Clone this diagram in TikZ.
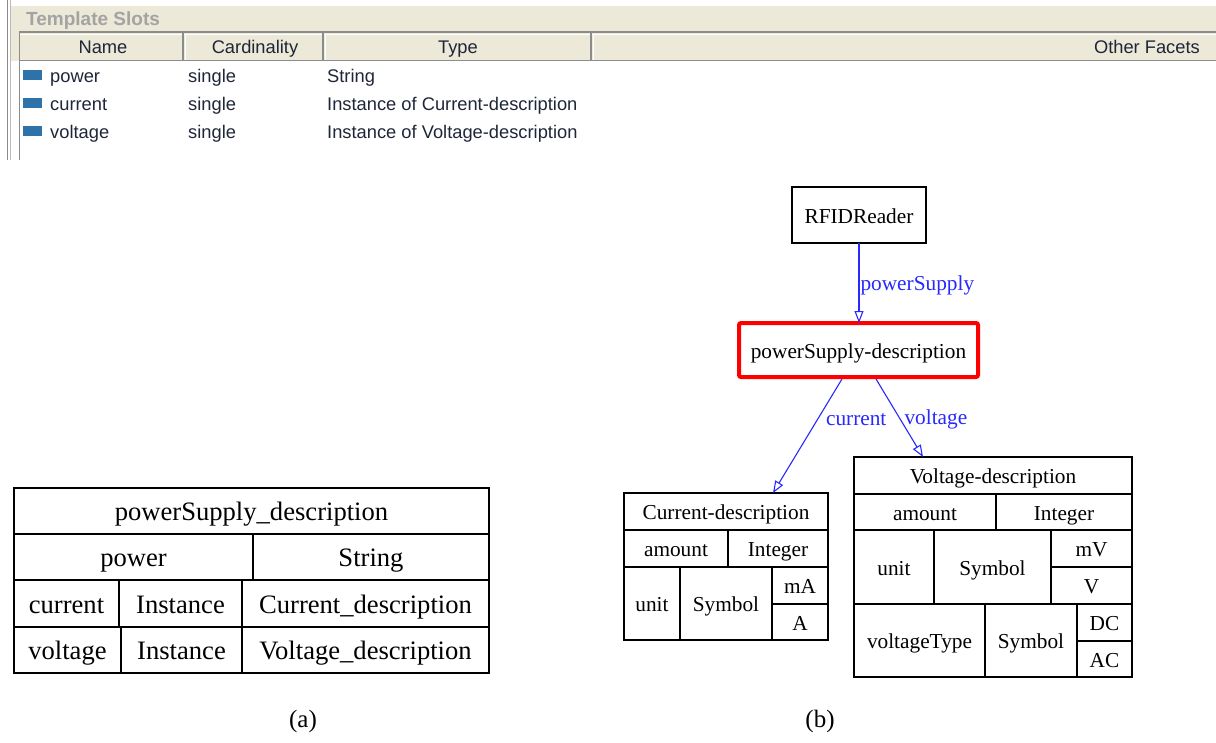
\documentclass[tikz,border=0pt]{standalone}
\usepackage{fontspec}
\setmainfont{Liberation Serif}
\newfontfamily\uifont{Liberation Sans}
\usetikzlibrary{arrows.meta,calc}
\definecolor{beige}{HTML}{ECE9D8}
\definecolor{uiline}{HTML}{8C8C8C}
\definecolor{uitext}{HTML}{1E2638}
\definecolor{uigrey}{HTML}{A3A3A3}
\definecolor{iconblue}{HTML}{2E72AA}
\definecolor{edgeblue}{RGB}{40,40,255}
\newcommand\tcell[6][]{\node[cellbox,#1,minimum width={#4-#2},minimum height={#5-#3}] (c#2-#3) at ({(#2+#4)/2},{(#3+#5)/2}) {#6};}
\begin{document}
\begin{tikzpicture}[x=1pt,y=-1pt,
  cellbox/.style={draw=black,line width=1.2pt,inner sep=0pt,outer sep=0pt,text height=21pt,text depth=5pt},
  bigtab/.style={font=\fontsize{26.6}{30}\selectfont,text height=25.5pt,text depth=6.3pt},
  smalltab/.style={font=\fontsize{21.3}{25}\selectfont,text height=21pt,text depth=5pt},
  uitxt/.style={font=\uifont\fontsize{18.3}{21}\selectfont,text=uitext,inner sep=0pt,text height=17.4pt,text depth=4pt},
  edge/.style={draw=edgeblue,line width=1.1pt,-{Triangle[open,length=12pt,width=9pt]}},
  lbl/.style={text=edgeblue,font=\fontsize{21.3}{25}\selectfont,inner sep=0pt,text height=20pt,text depth=5pt},
  capt/.style={font=\fontsize{25}{29}\selectfont,inner sep=0pt,text height=20pt,text depth=6pt}]
\useasboundingbox (0,0) rectangle (1216,742);
% ---------- top panel ----------
\fill[beige] (11,6) rectangle (1216,61);
\draw[uiline,line width=1.5pt] (7.5,0) -- (7.5,160);
\draw[uiline!60,line width=1pt] (10.5,0) -- (10.5,160);
\draw[uiline,line width=1.5pt] (19,32) -- (1216,32);
\draw[white,line width=1pt] (19,34) -- (1216,34);
\draw[uiline,line width=1.5pt] (19,60.5) -- (1216,60.5);
\draw[uiline,line width=1.5pt] (19.5,32) -- (19.5,160);
\foreach \cx in {183,323,591}{
  \draw[uiline,line width=1.5pt] (\cx,32) -- (\cx,60);
  \draw[white,line width=1pt] (\cx+2,34) -- (\cx+2,60);
}
\node[uitxt,anchor=west,text=uigrey,font=\uifont\bfseries\fontsize{19}{22}\selectfont] (ts) at (26,19) {Template Slots};
\node[uitxt] (hname) at (103,47) {Name};
\node[uitxt] (hcard) at (255,47) {Cardinality};
\node[uitxt] (htype) at (458,47) {Type};
\node[uitxt,anchor=east] (hother) at (1200,47) {Other Facets};
\foreach \nm/\yy/\ty in {power/76/String, current/104/Instance of Current-description, voltage/132/Instance of Voltage-description}{
  \fill[iconblue] (23,\yy-6) rectangle (42,\yy+4);
  \node[uitxt,anchor=west] (n\nm) at (50,\yy) {\nm};
  \node[uitxt,anchor=west] (c\nm) at (188,\yy) {single};
  \node[uitxt,anchor=west] (t\nm) at (327,\yy) {\ty};
}
% ---------- (a) table ----------
\tcell[bigtab]{14}{488}{489}{534}{powerSupply\_description}
\tcell[bigtab]{14}{534}{253}{580}{power}
\tcell[bigtab]{253}{534}{489}{580}{String}
\tcell[bigtab]{14}{580}{119}{627}{current}
\tcell[bigtab]{119}{580}{242}{627}{Instance}
\tcell[bigtab]{242}{580}{489}{627}{Current\_description}
\tcell[bigtab]{14}{627}{121}{673}{voltage}
\tcell[bigtab]{121}{627}{242}{673}{Instance}
\tcell[bigtab]{242}{627}{489}{673}{Voltage\_description}
% ---------- (b) graph ----------
\node[cellbox,smalltab,minimum width=134,minimum height=56] (rfid) at (859,215) {RFIDReader};
\node[cellbox,smalltab,draw=red,line width=4pt,rounded corners=2pt,minimum width=239,minimum height=54] (psd) at (858.5,350) {powerSupply-description};
% Current-description
\tcell[smalltab]{624}{493}{828}{530}{Current-description}
\tcell[smalltab]{624}{530}{728}{567}{amount}
\tcell[smalltab]{728}{530}{828}{567}{Integer}
\tcell[smalltab]{624}{567}{680}{640}{unit}
\tcell[smalltab]{680}{567}{772}{640}{Symbol}
\tcell[smalltab]{772}{567}{828}{604}{mA}
\tcell[smalltab]{772}{604}{828}{640}{A}
% Voltage-description
\tcell[smalltab]{854}{457}{1132}{494}{Voltage-description}
\tcell[smalltab]{854}{494}{996}{530}{amount}
\tcell[smalltab]{996}{494}{1132}{530}{Integer}
\tcell[smalltab]{854}{530}{934}{604}{unit}
\tcell[smalltab]{934}{530}{1051}{604}{Symbol}
\tcell[smalltab]{1051}{530}{1132}{567}{mV}
\tcell[smalltab]{1051}{567}{1132}{604}{V}
\tcell[smalltab]{854}{604}{985}{677}{voltageType}
\tcell[smalltab]{985}{604}{1077}{677}{Symbol}
\tcell[smalltab]{1077}{604}{1132}{641}{DC}
\tcell[smalltab]{1077}{641}{1132}{677}{AC}
% edges
\draw[edge] (rfid.south) -- (rfid.south |- psd.north)
  node[lbl,pos=0.5,anchor=west,xshift=1pt] (lps) {powerSupply};
\draw[edge] ([xshift=-16.5pt,yshift=-2pt]psd.south) -- ([xshift=47pt]c624-493.north)
  node[lbl,pos=0.34,anchor=west,xshift=7pt] (lcur) {current};
\draw[edge] ([xshift=17.5pt,yshift=-2pt]psd.south) -- ([xshift=-70pt]c854-457.north)
  node[lbl,pos=0.49,anchor=west,xshift=5pt] (lvol) {voltage};
% captions
\node[capt] (capa) at (303,720) {(a)};
\node[capt] (capb) at (820,720) {(b)};
\end{tikzpicture}
\end{document}
